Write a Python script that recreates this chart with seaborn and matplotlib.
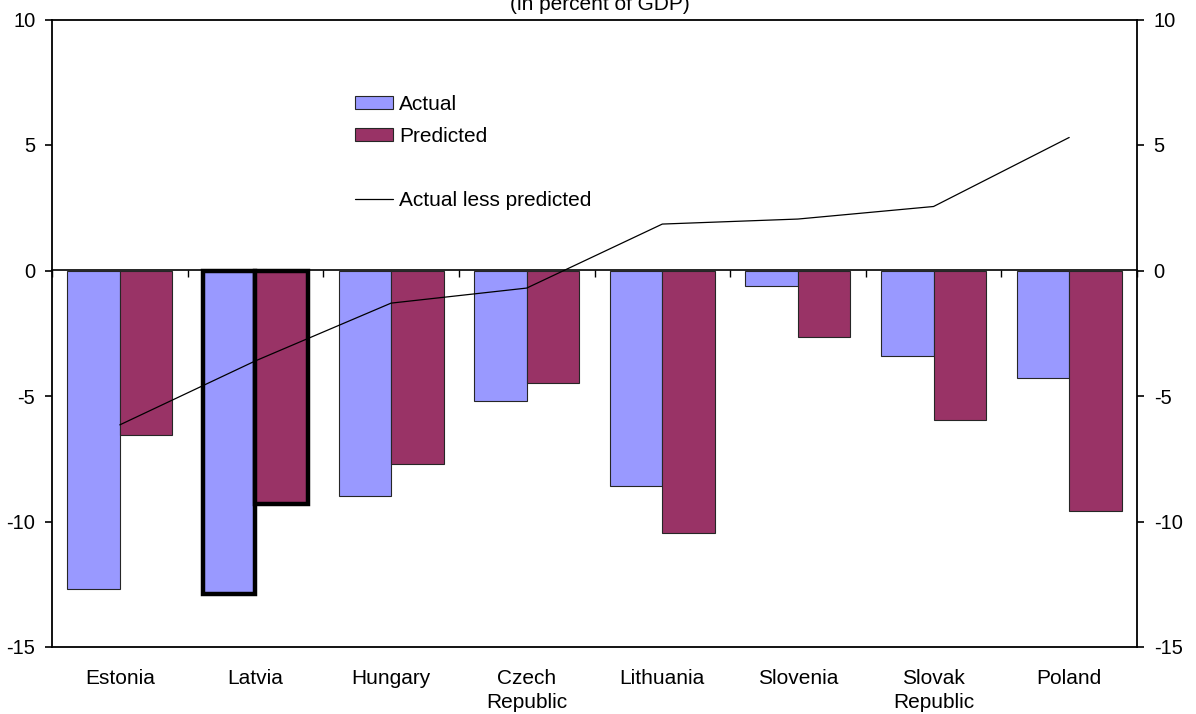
import numpy as np
import pandas as pd
import matplotlib
matplotlib.use("Agg")
import matplotlib.pyplot as plt
from matplotlib.patches import Patch
from matplotlib.lines import Line2D
import seaborn as sns

# Current account balances, 2007 (percent of GDP)
countries = ["Estonia", "Latvia", "Hungary", "Czech\nRepublic", "Lithuania",
             "Slovenia", "Slovak\nRepublic", "Poland"]
actual = [-12.7, -12.9, -9.0, -5.2, -8.6, -0.6, -3.4, -4.3]
predicted = [-6.55, -9.3, -7.7, -4.5, -10.45, -2.65, -5.95, -9.6]
actual_less_predicted = [-6.15, -3.6, -1.3, -0.7, 1.85, 2.05, 2.55, 5.3]
y_ticks = [-15, -10, -5, 0, 5, 10]
highlight = "Latvia"

sns.set_theme(style="white")
plt.rcParams["font.family"] = ["Liberation Sans", "DejaVu Sans"]
plt.rcParams["axes.unicode_minus"] = False
plt.rcParams["text.color"] = "black"
plt.rcParams["axes.labelcolor"] = "black"
plt.rcParams["xtick.color"] = "black"
plt.rcParams["ytick.color"] = "black"

df = pd.DataFrame({
    "country": countries * 2,
    "value": actual + predicted,
    "series": ["Actual"] * len(countries) + ["Predicted"] * len(countries),
})

fig = plt.figure(figsize=(11.96, 7.14), dpi=100)
ax = fig.add_axes([52 / 1196, 1 - 647 / 714, (1137 - 52) / 1196, (647 - 19.5) / 714])

bar_colors = ["#9999FF", "#993366"]
sns.barplot(data=df, x="country", y="value", hue="series", order=countries,
            palette=bar_colors, saturation=1, width=0.775, gap=0,
            edgecolor="#262626", linewidth=0.8, legend=False, ax=ax)

# emphasise one country with heavy outlines
hi = countries.index(highlight)
for cont in ax.containers:
    bar = cont[hi]
    bar.set_edgecolor("black")
    bar.set_linewidth(3.2)
    bar.set_zorder(3)

# difference line through category centres
sns.lineplot(x=np.arange(len(countries)), y=actual_less_predicted, color="black",
             linewidth=0.9, ax=ax, zorder=5)

ax.set_xlim(-0.5, len(countries) - 0.5)
ax.set_ylim(y_ticks[0], y_ticks[-1])
ax.set_yticks(y_ticks)
ax.set_xlabel("")
ax.set_ylabel("")

for s in ax.spines.values():
    s.set_visible(True)
    s.set_color("black")
    s.set_linewidth(1.3)

ax.tick_params(axis="y", left=True, right=True, labelleft=True, labelright=True,
               direction="out", length=5, width=1.2, pad=7, labelsize=14.5,
               colors="black")
ax.tick_params(axis="x", length=0, pad=16, labelsize=15, colors="black")
for lab in ax.get_xticklabels():
    lab.set_linespacing(1.3)

# zero axis with category separator ticks
zero_frac = (0 - y_ticks[0]) / (y_ticks[-1] - y_ticks[0])
sec = ax.secondary_xaxis(zero_frac)
sec.set_xticks(np.arange(len(countries) + 1) - 0.5)
sec.set_xticklabels([])
sec.tick_params(direction="in", length=5, width=1.0, colors="black")
for s in sec.spines.values():
    s.set_color("black")
    s.set_linewidth(1.2)

handles = [
    Patch(facecolor=bar_colors[0], edgecolor="#262626", linewidth=0.8, label="Actual"),
    Patch(facecolor=bar_colors[1], edgecolor="#262626", linewidth=0.8, label="Predicted"),
    Line2D([], [], color="none", label=" "),
    Line2D([], [], color="black", linewidth=0.9, label="Actual less predicted"),
]
ax.legend(handles=handles, loc="upper left", frameon=False,
          bbox_to_anchor=(355 / 1196, 1 - 95 / 714), bbox_transform=fig.transFigure,
          borderpad=0, borderaxespad=0, fontsize=15, handlelength=1.83,
          handleheight=0.63, handletextpad=0.3, labelspacing=0.62)

fig.text(600 / 1196, 1 - 10 / 714, "(in percent of GDP)", ha="center",
         va="baseline", fontsize=15, color="black")

fig.savefig("out.png", dpi=100, facecolor="white")
